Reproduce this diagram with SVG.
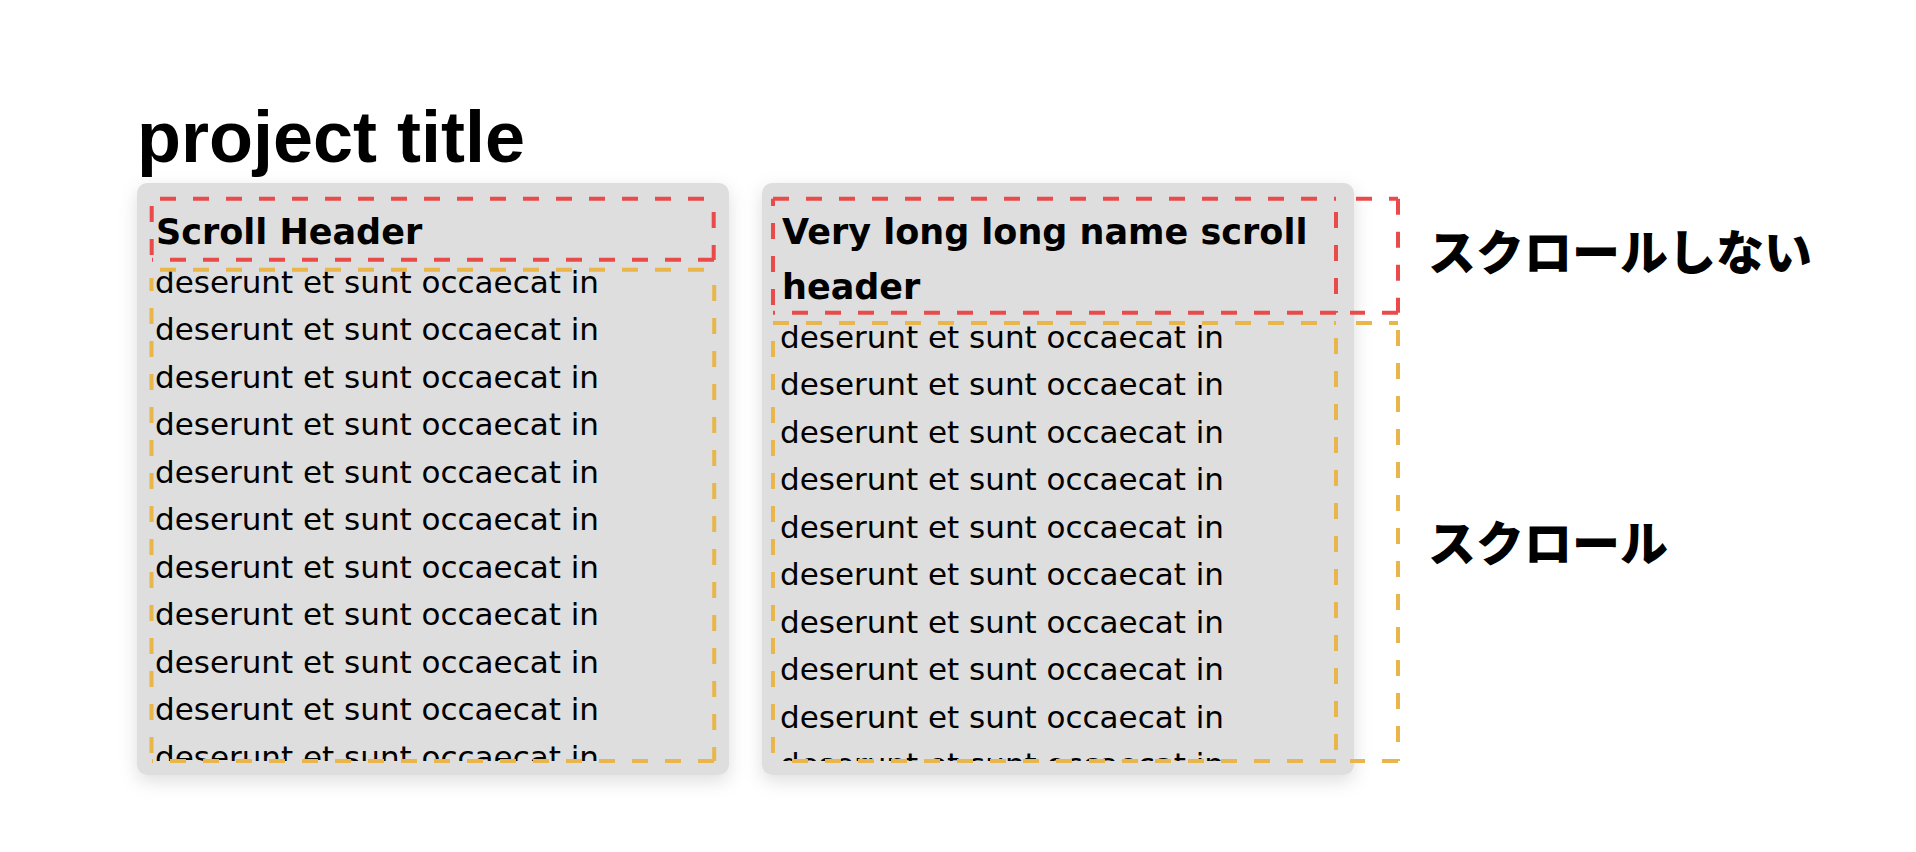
<svg xmlns="http://www.w3.org/2000/svg" width="1916" height="852" viewBox="0 0 1916 852">
  <defs>
    <filter id="shadow" x="-10%" y="-10%" width="120%" height="125%">
      <feDropShadow dx="0" dy="6" stdDeviation="9" flood-color="#000" flood-opacity="0.13"/>
    </filter>
    <clipPath id="clipL"><rect x="152" y="270" width="562" height="491"/></clipPath>
    <clipPath id="clipR"><rect x="773" y="323" width="563" height="438"/></clipPath>
    <style>
      .card { fill: #dedede; filter: url(#shadow); }
      .title { font-family: "Liberation Sans", Arial, sans-serif; font-weight: 700; font-size: 72px; fill: #000; }
      .hdr { font-family: "DejaVu Sans", sans-serif; font-weight: 700; font-size: 35px; fill: #000; }
      .body { font-family: "DejaVu Sans", sans-serif; font-size: 31px; fill: #000; }
      .jp { font-family: "Noto Sans CJK JP", sans-serif; font-weight: 900; font-size: 48px; fill: #000; }
      .red { fill: none; stroke: #e94b4b; stroke-width: 4; stroke-dasharray: 16 17; }
      .org { fill: none; stroke: #e8b64a; stroke-width: 4; stroke-dasharray: 16 17; }
    </style>
  </defs>
  <rect width="1916" height="852" fill="#fff"/>

  <g id="title">
    <text class="title" x="137" y="162">project title</text>
  </g>

  <g id="card-left">
    <rect class="card" x="137" y="183" width="592" height="592" rx="10"/>
    <text class="hdr" x="156" y="243.5">Scroll Header</text>
    <g clip-path="url(#clipL)" class="body">
      <text x="155" y="292.5">deserunt et sunt occaecat in</text>
      <text x="155" y="340">deserunt et sunt occaecat in</text>
      <text x="155" y="387.5">deserunt et sunt occaecat in</text>
      <text x="155" y="435">deserunt et sunt occaecat in</text>
      <text x="155" y="482.5">deserunt et sunt occaecat in</text>
      <text x="155" y="530">deserunt et sunt occaecat in</text>
      <text x="155" y="577.5">deserunt et sunt occaecat in</text>
      <text x="155" y="625">deserunt et sunt occaecat in</text>
      <text x="155" y="672.5">deserunt et sunt occaecat in</text>
      <text x="155" y="720">deserunt et sunt occaecat in</text>
      <text x="155" y="767.5">deserunt et sunt occaecat in</text>
    </g>
  </g>

  <g id="card-right">
    <rect class="card" x="762" y="183" width="592" height="592" rx="10"/>
    <text class="hdr" x="782" y="243.5">Very long long name scroll</text>
    <text class="hdr" x="782" y="298.5">header</text>
    <g clip-path="url(#clipR)" class="body">
      <text x="780" y="347.5">deserunt et sunt occaecat in</text>
      <text x="780" y="395">deserunt et sunt occaecat in</text>
      <text x="780" y="442.5">deserunt et sunt occaecat in</text>
      <text x="780" y="490">deserunt et sunt occaecat in</text>
      <text x="780" y="537.5">deserunt et sunt occaecat in</text>
      <text x="780" y="585">deserunt et sunt occaecat in</text>
      <text x="780" y="632.5">deserunt et sunt occaecat in</text>
      <text x="780" y="680">deserunt et sunt occaecat in</text>
      <text x="780" y="727.5">deserunt et sunt occaecat in</text>
      <text x="780" y="775">deserunt et sunt occaecat in</text>
    </g>
  </g>

  <g id="annotations">
    <!-- left card: fixed header box -->
    <path class="red" d="M160 198.7 H714 M713.7 212 V260 M714 259.8 H152 M151.7 255 V205"/>
    <!-- left card: scroll area box -->
    <path class="org" d="M160 269.7 H714 M714.2 285 V761 M714 761 H152 M151.5 753 V278"/>
    <!-- right card: fixed header box (inner) -->
    <path class="red" d="M773 198.7 H1336 M1336 212 V312.7 M1336 312.7 H773 M773 305 V198.7"/>
    <!-- right: outer fixed extension -->
    <path class="red" d="M1356 198.7 H1398 M1398 198.7 V312.7 M1398 312.7 H1350"/>
    <!-- right card: scroll area box (inner) -->
    <path class="org" d="M773 323 H1336 M1336 338 V761 M1336 761 H781 M773 753 V330"/>
    <!-- right: outer scroll extension -->
    <path class="org" d="M1356 323 H1398 M1398 330 V761 M1398 761 H1350"/>
  </g>

  <g id="label-fixed">
    <text class="jp" x="1428" y="270">スクロールしない</text>
  </g>
  <g id="label-scroll">
    <text class="jp" x="1428" y="561">スクロール</text>
  </g>
</svg>
